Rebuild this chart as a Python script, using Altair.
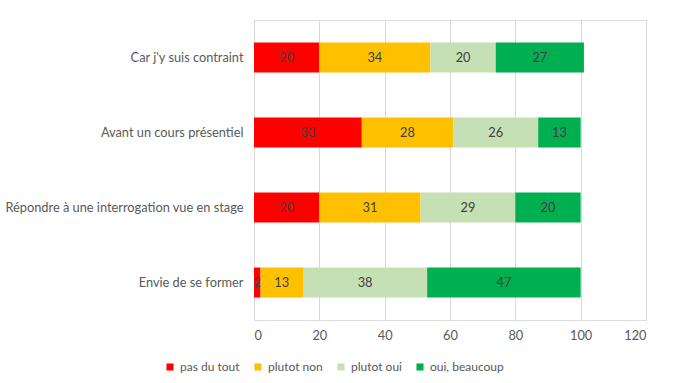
import altair as alt
import pandas as pd

categories = ["Car j'y suis contraint", "Avant un cours présentiel",
              "Répondre à une interrogation vue en stage", "Envie de se former"]
series = ["pas du tout", "plutot non", "plutot oui", "oui, beaucoup"]
colors = ["#FF0000", "#FFC000", "#C5E0B4", "#00B050"]
pas_du_tout = [20, 33, 20, 2]
plutot_non = [34, 28, 31, 13]
plutot_oui = [20, 26, 29, 38]
oui_beaucoup = [27, 13, 20, 47]
x_ticks = [0, 20, 40, 60, 80, 100, 120]

rows = []
for s_i, (s, vals) in enumerate(zip(series, [pas_du_tout, plutot_non, plutot_oui, oui_beaucoup])):
    for c, v in zip(categories, vals):
        rows.append({"cat": c, "serie": s, "idx": s_i, "value": v})
df = pd.DataFrame(rows)

FONT = "Lato"
FS = 12.8
base = alt.Chart(df).transform_stack(
    stack="value", groupby=["cat"], as_=["x0", "x1"], sort=[alt.SortField("idx", order="ascending")]
).transform_calculate(mid="(datum.x0 + datum.x1) / 2")

y_enc = alt.Y("cat:N", sort=categories, title=None,
              scale=alt.Scale(paddingInner=0, paddingOuter=0),
              axis=alt.Axis(domain=False, ticks=False, labelPadding=11, labelFontSize=FS,
                            labelColor="#595959", labelFont=FONT, labelLimit=300))

bars = base.mark_bar(size=30).encode(
    x=alt.X("x0:Q", title=None,
            scale=alt.Scale(domain=[0, 120], nice=False),
            axis=alt.Axis(values=x_ticks, domain=False, ticks=False, labelPadding=9,
                          labelFontSize=FS, labelColor="#595959", labelFont=FONT,
                          grid=True, gridColor="#D9D9D9")),
    x2="x1:Q",
    y=y_enc,
    color=alt.Color("serie:N", sort=series, scale=alt.Scale(domain=series, range=colors),
                    legend=alt.Legend(title=None, orient="none", direction="horizontal",
                                      legendX=-90, legendY=341,
                                      symbolType="square", symbolSize=50, symbolStrokeWidth=0,
                                      labelFontSize=12, labelColor="#595959", labelFont=FONT,
                                      columnPadding=12, labelOffset=4)),
)

labels = base.mark_text(fontSize=FS, color="#404040", font=FONT).encode(
    x=alt.X("mid:Q"),
    y=alt.Y("cat:N", sort=categories),
    text=alt.Text("value:Q"),
)

chart = (bars + labels).properties(
    width=392, height=300,
    autosize=alt.AutoSizeParams(type="none"),
    padding={"left": 254, "top": 20, "right": 29, "bottom": 63},
).configure_view(stroke=None).configure(background="white")

chart.save("out.html", embed_options={"renderer": "svg", "actions": False})
